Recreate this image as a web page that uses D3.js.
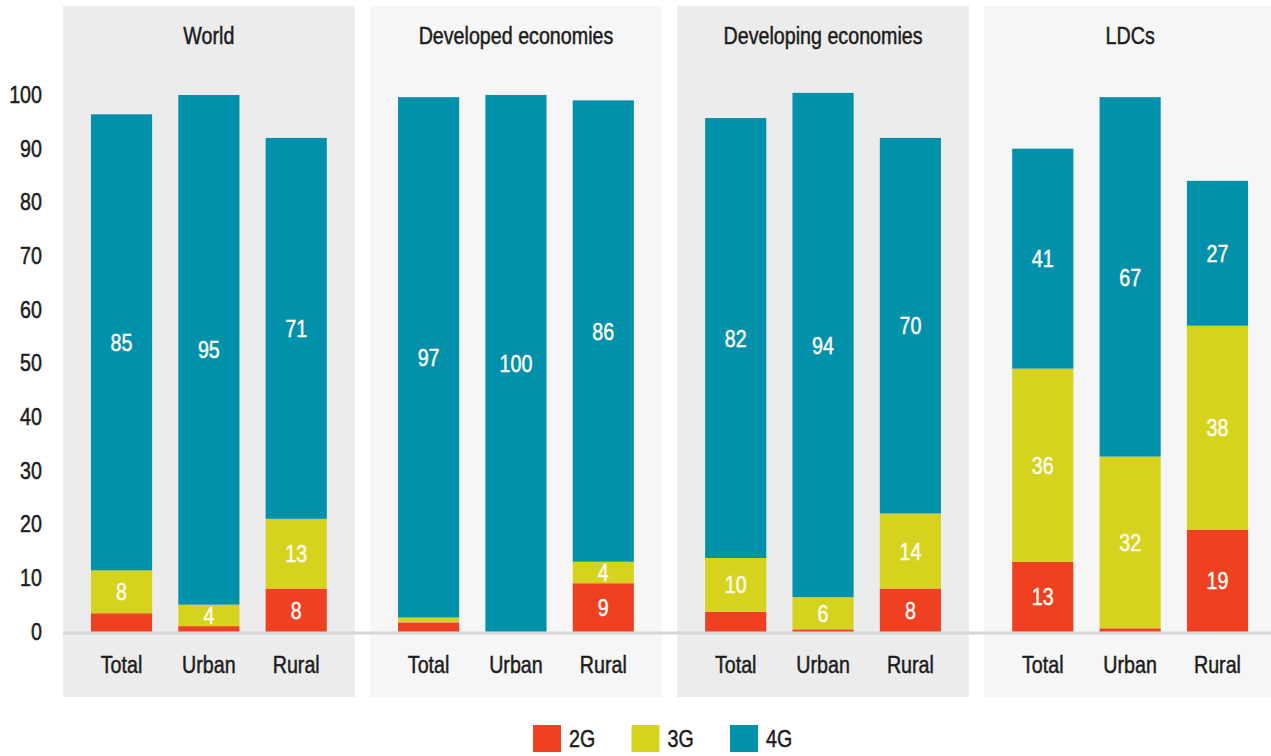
<!DOCTYPE html>
<html>
<head>
<meta charset="utf-8">
<script src="https://cdn.jsdelivr.net/npm/d3@7"></script>
<style>
  body { margin: 0; background: #fff; }
  text { font-family: "Liberation Sans", Arial, sans-serif; }
</style>
</head>
<body>
<svg id="chart" width="1271" height="756"></svg>
<script>
// Mobile network coverage (% of population) by region and area
const regions = ["World", "Developed economies", "Developing economies", "LDCs"];
const areas = ["Total", "Urban", "Rural"];
const generations = ["2G", "3G", "4G"];
// one row per region, columns = Total, Urban, Rural
const coverage2G = [[3.4, 1, 8], [1.7, 0, 9], [3.7, 0.4, 8], [13, 0.6, 19]];
const coverage3G = [[8, 4, 13], [0.9, 0, 4], [10, 6, 14], [36, 32, 38]];
const coverage4G = [[85, 95, 71], [97, 100, 86], [82, 94, 70], [41, 67, 27]];
const yTicks = [0, 10, 20, 30, 40, 50, 60, 70, 80, 90, 100];
const genColors = ["#ef4022", "#d6d31f", "#0191ab"];
const panelFills = ["#ececec", "#f6f6f6", "#ececec", "#f6f6f6"];

const svg = d3.select("#chart");
const W = 1271;
const panelTop = 6, panelBottom = 697;
const squeeze = "scale(0.82,1)";   // condensed lettering
const ink = "#1c1c1c";

const x0 = d3.scaleBand().domain(regions).range([63, 1276]).paddingInner(0.05);
const x1 = d3.scaleBand().domain(areas).range([0, x0.bandwidth()]).paddingInner(0.3).paddingOuter(0.32);
const y = d3.scaleLinear().domain([0, 100]).range([631.5, 95]);
const color = d3.scaleOrdinal().domain(generations).range(genColors);

// place a condensed text at (x, y)
function place(sel, fx, fy) {
  return sel.attr("transform", (d, i) => `translate(${fx(d, i)},${fy(d, i)}) ${squeeze}`);
}
// slightly heavier strokes for the lettering
function weight(sel, c) {
  return sel.attr("fill", c).attr("stroke", c).attr("stroke-width", 0.5);
}

// stack the three generations for every region/area pair
const rows = [];
regions.forEach((r, i) => {
  areas.forEach((a, j) => {
    rows.push({ region: r, area: a, "2G": coverage2G[i][j], "3G": coverage3G[i][j], "4G": coverage4G[i][j] });
  });
});
const series = d3.stack().keys(generations)(rows);

// panel backgrounds
svg.append("g").selectAll("rect").data(regions).join("rect")
  .attr("x", d => x0(d))
  .attr("y", panelTop)
  .attr("width", x0.bandwidth())
  .attr("height", panelBottom - panelTop)
  .attr("fill", (d, i) => panelFills[i]);

// panel titles
weight(place(svg.append("g").selectAll("text").data(regions).join("text"),
      d => x0(d) + x0.bandwidth() / 2, () => 44), ink)
  .attr("text-anchor", "middle")
  .attr("font-size", 24)
  .text(d => d);

// baseline
svg.append("line")
  .attr("x1", 63).attr("x2", W)
  .attr("y1", y(0) + 1.5).attr("y2", y(0) + 1.5)
  .attr("stroke", "#d6d6d6").attr("stroke-width", 3);

// y axis labels
const yAxis = d3.axisLeft(y).tickValues(yTicks).tickSize(0).tickPadding(0);
const yg = svg.append("g").attr("transform", "translate(42,0)").call(yAxis);
yg.select(".domain").remove();
weight(yg.selectAll("text"), ink)
  .attr("transform", squeeze)
  .attr("font-size", 24)
  .style("font-family", "\"Liberation Sans\", Arial, sans-serif");

// stacked bars
const bx = d => x0(d.data.region) + x1(d.data.area);
const layers = svg.append("g").selectAll("g").data(series).join("g")
  .attr("fill", s => color(s.key));
layers.selectAll("rect").data(s => s).join("rect")
  .attr("x", bx)
  .attr("y", d => y(d[1]))
  .attr("width", x1.bandwidth())
  .attr("height", d => y(d[0]) - y(d[1]));

// value labels inside segments large enough to hold them
const labels = [];
series.forEach(s => s.forEach(d => {
  const v = d.data[s.key];
  if (v >= 4) labels.push({ d, v });
}));
weight(place(svg.append("g").selectAll("text").data(labels).join("text"),
      l => bx(l.d) + x1.bandwidth() / 2, l => (y(l.d[0]) + y(l.d[1])) / 2), "#fffaf0")
  .attr("dy", "0.36em")
  .attr("text-anchor", "middle")
  .attr("font-size", 24)
  .text(l => l.v);

// area labels under each bar
const cats = [];
regions.forEach(r => areas.forEach(a => cats.push({ r, a })));
weight(place(svg.append("g").selectAll("text").data(cats).join("text"),
      c => x0(c.r) + x1(c.a) + x1.bandwidth() / 2, () => 673), ink)
  .attr("text-anchor", "middle")
  .attr("font-size", 24)
  .text(c => c.a);

// legend
const legendX = d3.scalePoint().domain(generations).range([533, 730]);
const lg = svg.append("g").selectAll("g").data(generations).join("g")
  .attr("transform", g => `translate(${legendX(g)},725)`);
lg.append("rect").attr("width", 28).attr("height", 27).attr("fill", g => color(g));
weight(lg.append("text"), ink)
  .attr("transform", `translate(36,22) ${squeeze}`)
  .attr("font-size", 24)
  .text(g => g);
</script>
</body>
</html>
